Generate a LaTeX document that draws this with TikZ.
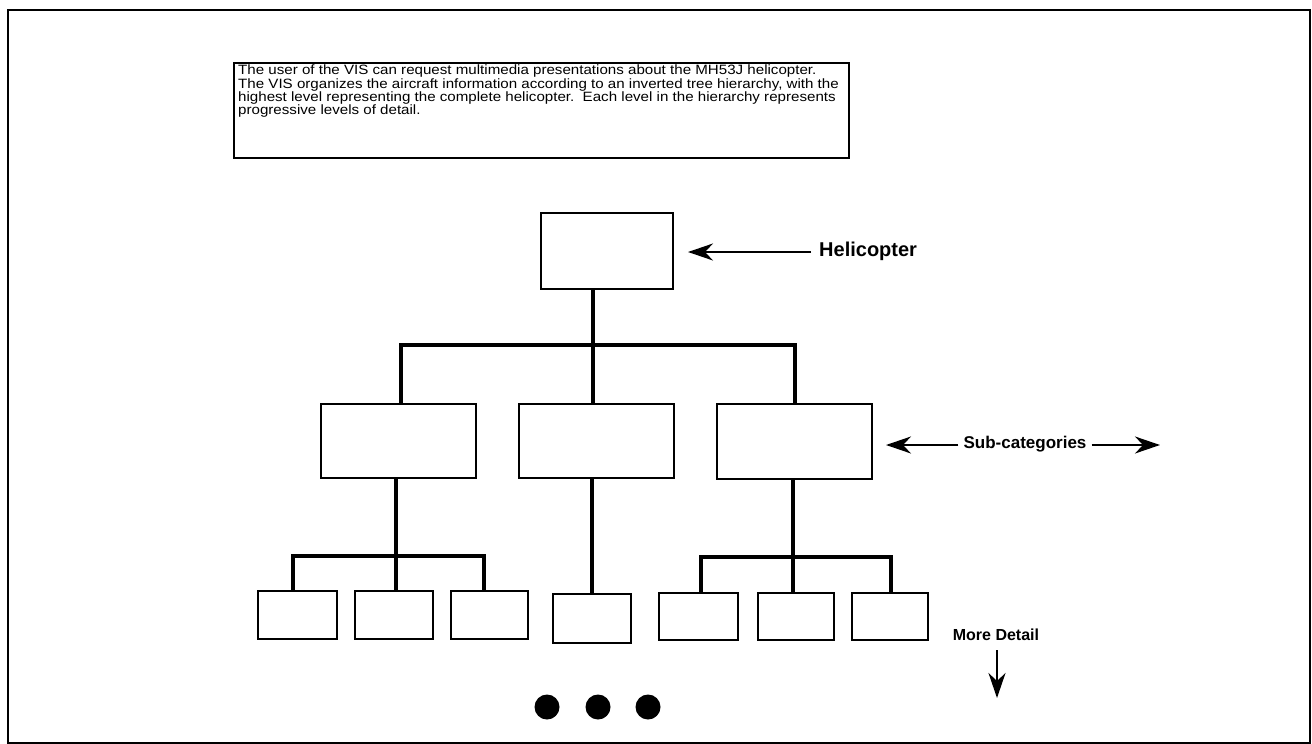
\documentclass[tikz,border=0pt]{standalone}
\usepackage{fontspec}
\setmainfont{Liberation Sans}
\newfontfamily\lab{Liberation Sans}
\newfontfamily\wide[FakeStretch=1.12]{Liberation Sans}
\newcommand\tighttext{\lineskiplimit-20pt\relax\lineskip0pt\relax}
\usetikzlibrary{arrows.meta}
\begin{document}
\begin{tikzpicture}[x=1pt,y=-1pt,
  box/.style={draw,line width=2.2pt,inner sep=0pt,anchor=north west},
  conn/.style={line width=3.2pt},
  arr/.style={line width=2pt,-{Stealth[length=25pt,width=17pt,inset=8pt]}},
  dot/.style={circle,fill,inner sep=0pt,minimum size=25pt},
  lbl/.style={inner sep=1pt,font=\lab}]
\useasboundingbox (0,0) rectangle (1312,744);
\draw[line width=2.4pt] (8,10) rectangle (1310,743);
% description box
\node[box,minimum width=615pt,minimum height=95pt] (tbox) at (233,62) {};
\node[anchor=north west,inner sep=0pt,align=left,font=\wide\fontsize{13.5}{13.3}\selectfont\tighttext] (ttext) at (238,65)
 {The user of the VIS can request multimedia presentations about the MH53J helicopter.\\
  The VIS organizes the aircraft information according to an inverted tree hierarchy, with the\\
  highest level representing the complete helicopter.\ \ Each level in the hierarchy represents\\
  progressive levels of detail.};
% level 0
\node[box,minimum width=132pt,minimum height=76pt] (heli) at (540,212) {};
% level 1
\node[box,minimum width=155pt,minimum height=74pt] (sL) at (320,403) {};
\node[box,minimum width=155pt,minimum height=74pt] (sM) at (518,403) {};
\node[box,minimum width=155pt,minimum height=75pt] (sR) at (716,403) {};
% level 2
\node[box,minimum width=79pt,minimum height=48pt] (b1) at (257,590) {};
\node[box,minimum width=78pt,minimum height=48pt] (b2) at (354,590) {};
\node[box,minimum width=77pt,minimum height=48pt] (b3) at (450,590) {};
\node[box,minimum width=78pt,minimum height=49pt] (b4) at (552,593) {};
\node[box,minimum width=79pt,minimum height=47pt] (b5) at (658,592) {};
\node[box,minimum width=76pt,minimum height=47pt] (b6) at (757,592) {};
\node[box,minimum width=76pt,minimum height=47pt] (b7) at (851,592) {};
% junctions
\coordinate (j0) at (593,345);
\coordinate (jL) at (401,345);
\coordinate (jR) at (795,345);
\coordinate (kL) at (396,556);
\coordinate (kLa) at (293,556);
\coordinate (kLb) at (484,556);
\coordinate (kM) at (592,520);
\coordinate (kR) at (793,557);
\coordinate (kRa) at (701,557);
\coordinate (kRb) at (891,557);
% connectors
\draw[conn] (heli.south -| j0) -- (j0);
\draw[conn] (sL.north -| jL) -- (jL) -- (jR) -- (sR.north -| jR);
\draw[conn] (j0) -- (sM.north -| j0);
\draw[conn] (sL.south -| kL) -- (kL);
\draw[conn] (b1.north -| kLa) -- (kLa) -- (kLb) -- (b3.north -| kLb);
\draw[conn] (kL) -- (b2.north -| kL);
\draw[conn] (sM.south -| kM) -- (b4.north -| kM);
\draw[conn] (sR.south -| kR) -- (kR);
\draw[conn] (b5.north -| kRa) -- (kRa) -- (kRb) -- (b7.north -| kRb);
\draw[conn] (kR) -- (b6.north -| kR);
% labels
\node[lbl,anchor=west,font=\lab\bfseries\fontsize{20}{22}\selectfont] (hlab) at (818,251) {Helicopter};
\coordinate (hTip) at (688,252);
\draw[arr] (hlab.west) ++(-7,1) -- (hTip);
\node[lbl,anchor=center,font=\lab\bfseries\fontsize{17}{18}\selectfont] (slab) at (1025,444) {Sub-categories};
\coordinate (sTipL) at (886,445);
\coordinate (sTipR) at (1160,445);
\draw[arr] (slab.west) ++(-4,1) -- (sTipL);
\draw[arr] (slab.east) ++(4,1) -- (sTipR);
\node[lbl,anchor=center,font=\lab\bfseries\fontsize{16}{18}\selectfont] (mlab) at (996,635) {More Detail};
\coordinate (mTip) at (997,698);
\draw[arr] (mlab.south) ++(1,8) -- (mTip);
% dots
\node[dot] (d1) at (547,707) {};
\node[dot] (d2) at (598,707) {};
\node[dot] (d3) at (648,707) {};
\end{tikzpicture}
\end{document}
